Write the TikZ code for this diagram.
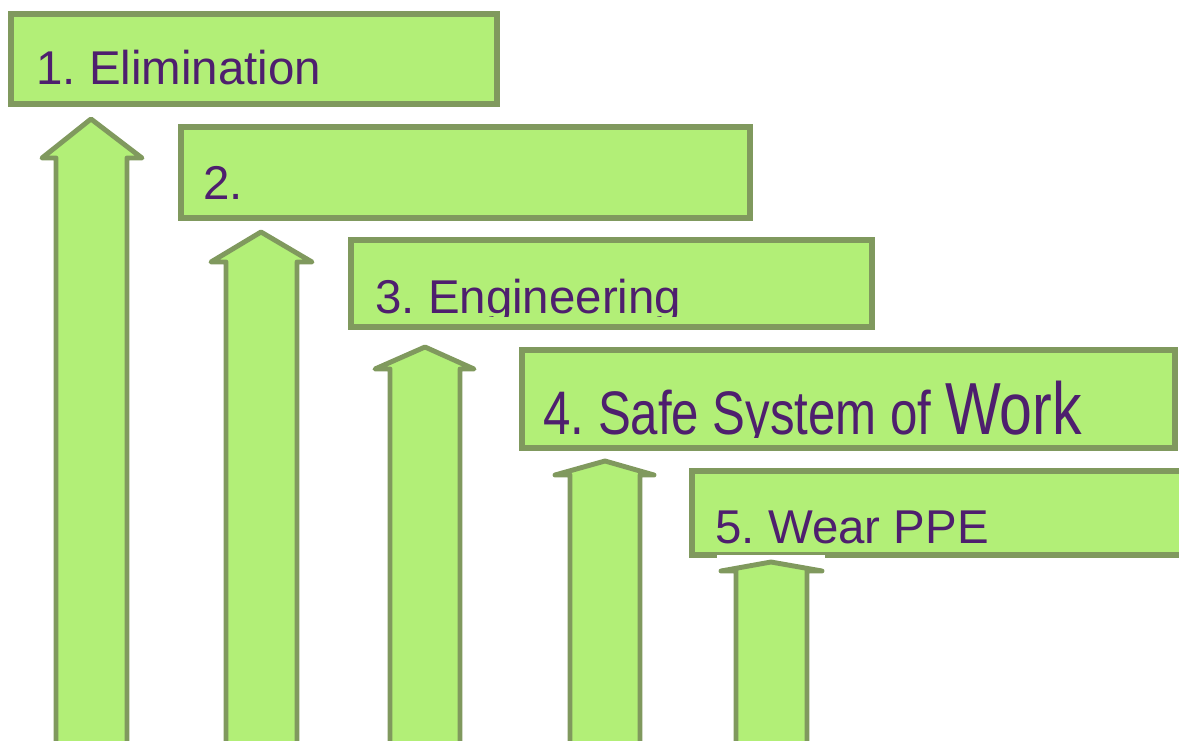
\documentclass[tikz,border=0pt]{standalone}
\usepackage{fontspec}
\setmainfont{Liberation Sans}
\frenchspacing
\definecolor{leaf}{HTML}{B2EF77}
\definecolor{moss}{HTML}{80995E}
\definecolor{plum}{HTML}{4E1F6E}

\begin{document}
\begin{tikzpicture}[x=0.02cm, y=-0.02cm,
    box/.style = {draw=moss, fill=leaf, line width=3.4pt},
    arr/.style = {draw=moss, fill=leaf, line width=2.8pt, line join=round},
    lbl/.style = {anchor=base west, inner sep=0pt, text=plum, font=\fontsize{27}{31}\selectfont}]
                  \useasboundingbox (0,0) rectangle (1179,740);
                  % steps
                  \draw[box] (11,14) rectangle (497,104);
                  \draw[box] (181,127) rectangle (750,218);
                  \draw[box] (351,240) rectangle (872,327);
                  \draw[box] (522,350) rectangle (1175,448);
                  \draw[box] (692,471) rectangle (1190,555);
                  \fill[white] (717,555) rectangle (825,559);
                  % arrows
                  \draw[arr] (56,760) -- (56,158) -- (42,158) -- (91,119) -- (142,158) -- (127,158) -- (127,760) -- cycle;
                  \draw[arr] (226,760) -- (226,262) -- (211,262) -- (261,232) -- (312,262) -- (297,262) -- (297,760) -- cycle;
                  \draw[arr] (390,760) -- (390,369) -- (375,369) -- (425,347) -- (474,369) -- (460,369) -- (460,760) -- cycle;
                  \draw[arr] (570,760) -- (570,475) -- (555,475) -- (605,461) -- (654,475) -- (640,475) -- (640,760) -- cycle;
                  \draw[arr] (736,760) -- (736,571) -- (721,571) -- (771,562) -- (822,571) -- (807,571) -- (807,760) -- cycle;
                  % labels
                  \node[lbl] (t1) at (36,85) {1. Elimination};
                  \node[lbl] (t2) at (203,199) {2.};
                  \begin{scope}
                    \clip (351,240) rectangle (872,316);
                    \node[lbl] (t3) at (375,313) {3. Engineering};
                  \end{scope}
                  \begin{scope}
                    \clip (522,350) rectangle (1175,437);
                    \node[lbl] (t4) at (543,434) {\scalebox{0.8}[1]{\fontsize{35}{40}\selectfont 4. Safe System of {\fontsize{42}{48}\selectfont Work}}};
                  \end{scope}
                  \node[lbl] (t5) at (715,543) {5. Wear PPE};
              \end{tikzpicture}
\end{document}
